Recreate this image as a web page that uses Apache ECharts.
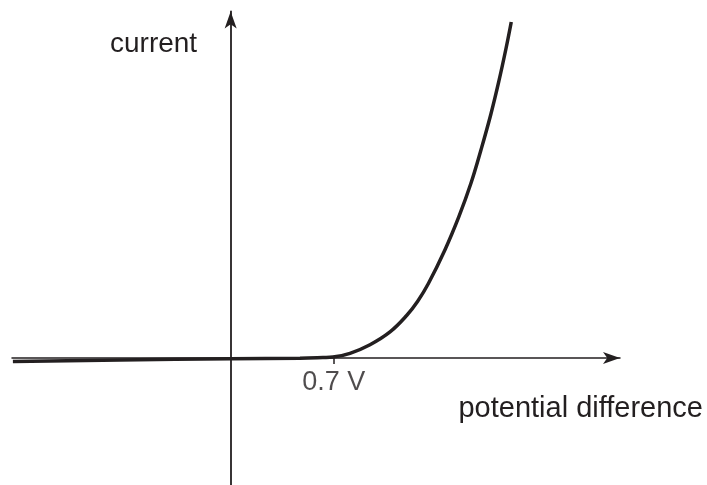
<!DOCTYPE html>
<html>
<head>
<meta charset="utf-8">
<script src="https://cdn.jsdelivr.net/npm/echarts@6/dist/echarts.min.js"></script>
<style>
html,body{margin:0;padding:0;background:#fff;}
#chart{width:707px;height:485px;}
</style>
</head>
<body>
<div id="chart"></div>
<script>
// potential difference (V) and current (arbitrary units)
var voltage = [-1.480, -0.752, 0.0, 0.471, 0.627, 0.695, 0.811, 0.947, 1.083, 1.196, 1.270, 1.343, 1.456, 1.551, 1.633, 1.701, 1.767, 1.822, 1.872, 1.907];
var current = [-0.35, -0.2, -0.08, -0.03, 0.04, 0.09, 0.47, 1.33, 2.61, 4.25, 5.65, 7.42, 10.8, 14.13, 17.47, 20.8, 24.3, 27.63, 31.0, 33.6];
var tickValues = [0.7];
var tickLabels = ['0.7 V'];
var xAxisName = 'potential difference';
var yAxisName = 'current';

var ink = '#231f20';
var font = 'Liberation Sans, Arial, Helvetica, sans-serif';
var chart = echarts.init(document.getElementById('chart'), null, {renderer: 'canvas'});
var points = voltage.map(function (v, i) { return [v, current[i]]; });
var tickPoints = tickValues.map(function (v, i) { return {value: [v, 0], name: tickLabels[i]}; });

chart.setOption({
  animation: false,
  backgroundColor: '#ffffff',
  grid: {left: 12, right: 87, top: 11.5, bottom: 0, containLabel: false, outerBoundsMode: 'none'},
  xAxis: {
    type: 'value', min: -1.486, max: 2.646,
    splitLine: {show: false},
    axisLine: {show: true, onZero: true, lineStyle: {color: ink, width: 1.5},
      symbol: ['none', 'arrow'], symbolSize: [9, 17]},
    axisTick: {show: true, customValues: tickValues, length: 6, lineStyle: {color: ink, width: 1.5}},
    axisLabel: {show: false}
  },
  yAxis: {
    type: 'value', min: -12.7, max: 34.65,
    splitLine: {show: false},
    axisLine: {show: true, onZero: true, lineStyle: {color: ink, width: 1.8},
      symbol: ['none', 'arrow'], symbolSize: [9, 17]},
    axisTick: {show: false},
    axisLabel: {show: false}
  },
  graphic: [
    {type: 'text', left: 110, top: 30, style: {text: yAxisName, fill: ink, font: '28px ' + font}},
    {type: 'text', right: 4, top: 394, style: {text: xAxisName, fill: ink, font: '29px ' + font}}
  ],
  series: [{
    type: 'line', data: points, smooth: 0.4, showSymbol: false,
    lineStyle: {color: ink, width: 3.5}, z: 3
  }, {
    type: 'scatter', data: tickPoints, symbolSize: 0, silent: true,
    label: {show: true, position: 'bottom', distance: 11, formatter: '{b}',
      color: ink, fontSize: 27, fontFamily: font}
  }]
});
</script>
</body>
</html>
